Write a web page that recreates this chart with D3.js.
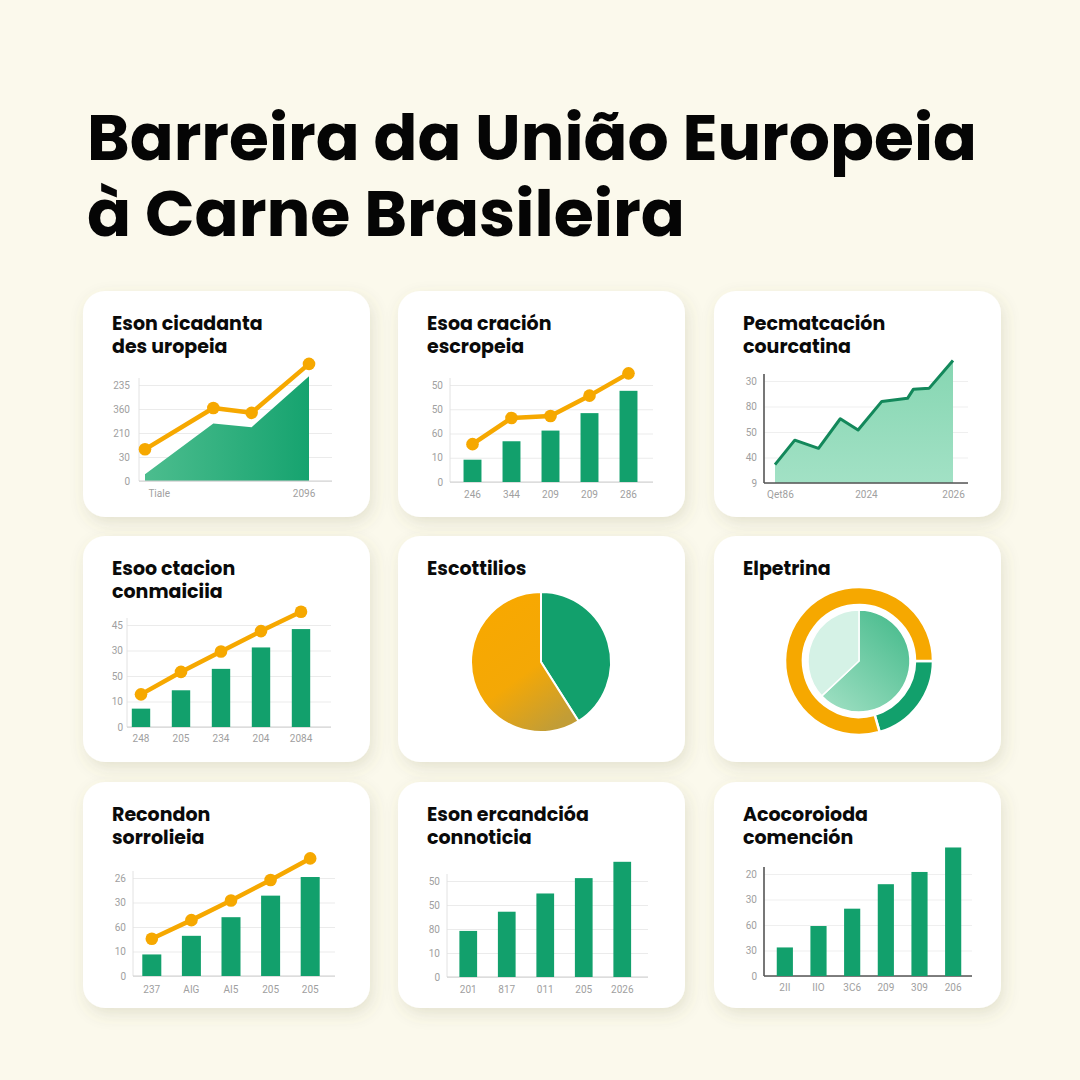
<!DOCTYPE html>
<html><head><meta charset="utf-8">
<script src="https://cdn.jsdelivr.net/npm/d3@7"></script>
<style>html,body{margin:0;padding:0;background:#fbf9ec;}svg{display:block}</style>
</head><body><svg id="c" width="1080" height="1080"></svg>
<script>
// ---------- DATA ----------
const titleLines = ["Barreira da União Europeia", "à Carne Brasileira"];

// Panel 1 – area + line
const p1Title = ["Eson cicadanta", "des uropeia"];
const p1Period = [0, 1.25, 1.95, 3];
const p1Area = [7, 60, 56, 109];
const p1Line = [33, 76, 71, 122];
const p1YTicks = ["0", "30", "210", "360", "235"];
const p1XTicks = ["Tiale", "2096"];
const p1XTickAt = [0.25, 2.9];

// Panel 2 – bars + line
const p2Title = ["Esoa cración", "escropeia"];
const p2Cats = ["246", "344", "209", "209", "286"];
const p2Bars = [23, 42, 53, 71, 94];
const p2Line = [39, 66, 68, 89, 112];
const p2YTicks = ["0", "10", "60", "50", "50"];

// Panel 3 – area line
const p3Title = ["Pecmatcación", "courcatina"];
const p3Period = [0, 1, 2.2, 3.3, 4.2, 5.4, 6.7, 7, 7.8, 9];
const p3Values = [18, 42, 34, 63, 52, 80, 83, 92, 93, 120];
const p3YTicks = ["9", "40", "50", "80", "30"];
const p3XTicks = ["Qet86", "2024", "2026"];
const p3XTickAt = [0.25, 4.6, 9];

// Panel 4 – bars + line
const p4Title = ["Esoo ctacion", "conmaiciia"];
const p4Cats = ["248", "205", "234", "204", "2084"];
const p4Bars = [18, 36, 57, 78, 96];
const p4Line = [32, 54, 74, 94, 113];
const p4YTicks = ["0", "10", "50", "30", "45"];

// Panel 5 – pie
const p5Title = ["Escottilios"];
const p5Values = [41, 59];

// Panel 6 – ring + inner pie
const p6Title = ["Elpetrina"];
const p6Ring = [20.5, 79.5];
const p6Inner = [63, 37];

// Panel 7 – bars + line
const p7Title = ["Recondon", "sorrolieia"];
const p7Cats = ["237", "AIG", "AI5", "205", "205"];
const p7Bars = [22, 41, 60, 82, 101];
const p7Line = [38, 57, 77, 98, 120];
const p7YTicks = ["0", "10", "60", "30", "26"];

// Panel 8 – bars
const p8Title = ["Eson ercandcióa", "connoticia"];
const p8Cats = ["201", "817", "011", "205", "2026"];
const p8Bars = [48, 68, 87, 103, 120];
const p8YTicks = ["0", "10", "80", "50", "50"];

// Panel 9 – bars
const p9Title = ["Acocoroioda", "comención"];
const p9Cats = ["2II", "IIO", "3C6", "209", "309", "206"];
const p9Bars = [28, 49, 66, 90, 102, 126];
const p9YTicks = ["0", "30", "60", "30", "20"];

// ---------- STYLE ----------
const BG = "#fbf9ec", GREEN = "#12a06c", ORANGE = "#f6a800", TXT = "#0a0a0a";
const TICKS = [0, 25, 50, 75, 100];
const TFONT = "Poppins, Inter, 'Noto Sans', sans-serif";
const SFONT = "Roboto, 'DejaVu Sans', sans-serif";

const svg = d3.select("#c");
const defs = svg.append("defs");
const sh = defs.append("filter").attr("id", "sh").attr("x", "-20%").attr("y", "-20%").attr("width", "145%").attr("height", "150%");
sh.append("feDropShadow").attr("dx", 3).attr("dy", 6).attr("stdDeviation", 8)
  .attr("flood-color", "#6a6840").attr("flood-opacity", 0.16);

function lg(id, x1, y1, x2, y2, stops) {
  const g = defs.append("linearGradient").attr("id", id)
    .attr("x1", x1).attr("y1", y1).attr("x2", x2).attr("y2", y2);
  stops.forEach(s => g.append("stop").attr("offset", s[0]).attr("stop-color", s[1]));
}
lg("g1", 0, 0, 1, 0, [[0, "#4cbd8e"], [1, "#16a36f"]]);
lg("g3", 0, 0, 0, 1, [[0, "#86d6b2"], [1, "#a2e1c5"]]);
lg("gOr", 0.2, 0.1, 0.7, 1, [[0, "#f8a800"], [0.55, "#f4a806"], [1, "#c29d36"]]);
lg("gMid", 0.9, 0, 0.1, 1, [[0, "#45ba8b"], [1, "#9edfc2"]]);

svg.append("rect").attr("width", 1080).attr("height", 1080).attr("fill", BG);

// Title
svg.selectAll("text.title").data(titleLines).join("text")
  .attr("class", "title")
  .attr("x", 87).attr("y", (d, i) => [160, 236][i])
  .attr("font-family", TFONT)
  .attr("font-weight", 700).attr("font-size", 64).attr("fill", "#050505")
  .attr("textLength", (d, i) => [890, 598][i]).attr("lengthAdjust", "spacingAndGlyphs")
  .text(d => d);

// Cards
const colX = [83, 398, 714], rowY = [291, 536, 782];
const CW = 287, CH = 226;
const cards = [];
rowY.forEach(y => colX.forEach(x => cards.push({ x, y })));
svg.selectAll("rect.card").data(cards).join("rect").attr("class", "card")
  .attr("x", d => d.x).attr("y", d => d.y).attr("width", CW).attr("height", CH)
  .attr("rx", 22).attr("fill", "#ffffff").attr("filter", "url(#sh)");

const titles = [p1Title, p2Title, p3Title, p4Title, p5Title, p6Title, p7Title, p8Title, p9Title];
titles.forEach((t, k) => {
  svg.append("g").selectAll("text").data(t).join("text")
    .attr("x", cards[k].x + 29).attr("y", (d, i) => cards[k].y + 39 + i * 23)
    .attr("font-family", TFONT)
    .attr("font-weight", 700).attr("font-size", 19).attr("fill", TXT)
    .text(d => d);
});

// ---------- helpers ----------
function frame(L, yLabels, dark, under) {
  const g = svg.append("g");
  const y = d3.scaleLinear().domain([0, 100]).range([L.base, L.top]);
  const ax = d3.axisLeft(y).tickValues(TICKS).tickFormat((d, i) => yLabels[i])
    .tickSize(-(L.x1 - L.x0)).tickPadding(L.x0 - L.ly);
  const ga = g.append("g").attr("transform", `translate(${L.x0},0)`).call(ax);
  ga.select(".domain").remove();
  ga.selectAll(".tick line").attr("stroke", dark ? "#efefef" : "#ebebeb");
  ga.selectAll(".tick text").attr("fill", "#a0a0a0").attr("font-size", 10)
    .attr("font-family", SFONT);
  if (under) under(g, y);
  g.append("line").attr("x1", L.x0).attr("x2", L.x0).attr("y1", L.top - 7).attr("y2", L.base)
    .attr("stroke", dark ? "#555" : "#e2e2e2").attr("stroke-width", dark ? 1.6 : 1);
  g.append("line").attr("x1", L.x0).attr("x2", L.x1).attr("y1", L.base).attr("y2", L.base)
    .attr("stroke", dark ? "#555" : "#cfcfcf").attr("stroke-width", dark ? 1.6 : 1);
  return { g, y };
}
function xLabels(g, scale, L, vals, fmt) {
  const ax = d3.axisBottom(scale).tickSize(0);
  if (vals) ax.tickValues(vals);
  ax.tickFormat(fmt);
  const ga = g.append("g").attr("transform", `translate(0,${L.base})`).call(ax);
  ga.select(".domain").remove();
  ga.selectAll("text").attr("y", L.xl - L.base).attr("dy", 0)
    .attr("fill", "#a0a0a0").attr("font-size", 10)
    .attr("font-family", SFONT);
}
function dotLine(g, xf, y, vals) {
  g.append("path").datum(vals)
    .attr("d", d3.line().x((d, i) => xf(i)).y(d => y(d)))
    .attr("fill", "none").attr("stroke", ORANGE).attr("stroke-width", 4.5)
    .attr("stroke-linejoin", "round").attr("stroke-linecap", "round");
  g.append("g").selectAll("circle").data(vals).join("circle")
    .attr("cx", (d, i) => xf(i)).attr("cy", d => y(d)).attr("r", 6.3).attr("fill", ORANGE);
}
function barPanel(L, cats, barVals, lineVals, yTicks, dark, pad) {
  const { g, y } = frame(L, yTicks, dark);
  const p = pad == null ? 0.54 : pad;
  const x = d3.scaleBand().domain(d3.range(cats.length)).range([L.b0, L.b1])
    .paddingInner(p).paddingOuter(p / 2);
  g.append("g").selectAll("rect").data(barVals).join("rect")
    .attr("x", (d, i) => x(i)).attr("width", x.bandwidth())
    .attr("y", d => y(d)).attr("height", d => L.base - y(d)).attr("fill", GREEN);
  if (lineVals) dotLine(g, i => x(i) + x.bandwidth() / 2, y, lineVals);
  xLabels(g, x, L, null, i => cats[i]);
}

// ---------- Panel 1 ----------
{
  const L = { x0: 139, x1: 332, base: 481, top: 385, ly: 130, xl: 497 };
  const x = d3.scaleLinear().domain([0, 3]).range([145, 309]);
  const { g, y } = frame(L, p1YTicks, false, (g, y) => {
    g.append("path").datum(p1Area)
      .attr("d", d3.area().x((d, i) => x(p1Period[i])).y0(L.base).y1(d => y(d)))
      .attr("fill", "url(#g1)");
  });
  dotLine(g, i => x(p1Period[i]), y, p1Line);
  xLabels(g, x, L, p1XTickAt, (d, i) => p1XTicks[i]);
}
// ---------- Panel 2 ----------
barPanel({ x0: 450, x1: 653, base: 482, top: 385, ly: 443, xl: 498, b0: 453, b1: 648 },
  p2Cats, p2Bars, p2Line, p2YTicks, false);
// ---------- Panel 3 ----------
{
  const L = { x0: 764, x1: 968, base: 483, top: 381, ly: 757, xl: 498 };
  const x = d3.scaleLinear().domain([0, 9]).range([775, 953]);
  const { g, y } = frame(L, p3YTicks, true, (g, y) => {
    g.append("path").datum(p3Values)
      .attr("d", d3.area().x((d, i) => x(p3Period[i])).y0(L.base).y1(d => y(d)))
      .attr("fill", "url(#g3)");
    g.append("path").datum(p3Values)
      .attr("d", d3.line().x((d, i) => x(p3Period[i])).y(d => y(d)))
      .attr("fill", "none").attr("stroke", "#13885b").attr("stroke-width", 3).attr("stroke-linejoin", "round");
  });
  xLabels(g, x, L, p3XTickAt, (d, i) => p3XTicks[i]);
}
// ---------- Panel 4 ----------
barPanel({ x0: 127, x1: 331, base: 727, top: 625, ly: 123, xl: 742, b0: 121, b1: 321 },
  p4Cats, p4Bars, p4Line, p4YTicks, false);
// ---------- Panel 5 ----------
{
  const g = svg.append("g").attr("transform", "translate(541,662)");
  const arcs = d3.pie().sort(null)(p5Values);
  g.selectAll("path").data(arcs).join("path")
    .attr("d", d3.arc().innerRadius(0).outerRadius(70))
    .attr("fill", (d, i) => [GREEN, "url(#gOr)"][i])
    .attr("stroke", "#fff").attr("stroke-width", 2);
}
// ---------- Panel 6 ----------
{
  const g = svg.append("g").attr("transform", "translate(859,661)");
  const ring = d3.pie().sort(null).startAngle(Math.PI / 2).endAngle(Math.PI / 2 + 2 * Math.PI)(p6Ring);
  g.append("g").selectAll("path").data(ring).join("path")
    .attr("d", d3.arc().innerRadius(56).outerRadius(74))
    .attr("fill", (d, i) => [GREEN, ORANGE][i])
    .attr("stroke", "#fff").attr("stroke-width", 2.5);
  const inner = d3.pie().sort(null)(p6Inner);
  g.append("g").selectAll("path").data(inner).join("path")
    .attr("d", d3.arc().innerRadius(0).outerRadius(51))
    .attr("fill", (d, i) => ["url(#gMid)", "#d5f2e6"][i])
    .attr("stroke", "#fff").attr("stroke-width", 1.5);
}
// ---------- Panel 7 ----------
barPanel({ x0: 133, x1: 335, base: 976, top: 878, ly: 126, xl: 993, b0: 132, b1: 330 },
  p7Cats, p7Bars, p7Line, p7YTicks, false, 0.52);
// ---------- Panel 8 ----------
barPanel({ x0: 447, x1: 648, base: 977, top: 881, ly: 440, xl: 993, b0: 449, b1: 641.5 },
  p8Cats, p8Bars, null, p8YTicks, false);
// ---------- Panel 9 ----------
barPanel({ x0: 764, x1: 972, base: 976, top: 874, ly: 757, xl: 991, b0: 768, b1: 970 },
  p9Cats, p9Bars, null, p9YTicks, true, 0.52);
</script></body></html>
